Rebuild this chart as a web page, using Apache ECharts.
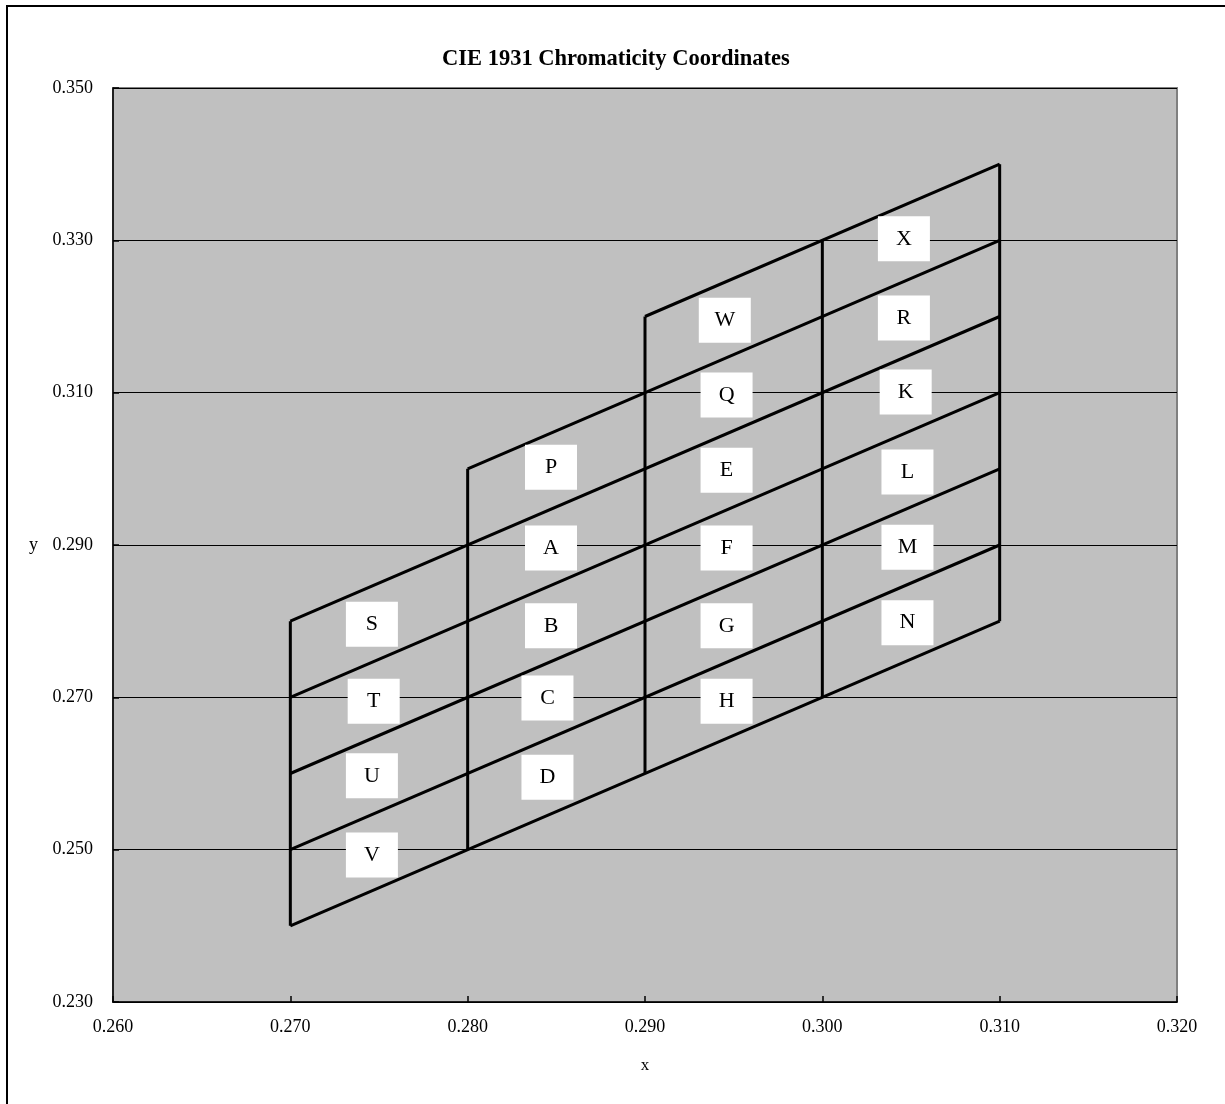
<!DOCTYPE html>
<html>
<head>
<meta charset="utf-8">
<script src="https://cdn.jsdelivr.net/npm/echarts@6/dist/echarts.min.js"></script>
<style>
html,body{margin:0;padding:0;background:#fff;}
#chart{width:1225px;height:1104px;}
</style>
</head>
<body>
<div id="chart"></div>
<script>
// Vertical grid segments
const vertX = [0.27, 0.28, 0.29, 0.30, 0.31];
const vertYLow = [0.24, 0.25, 0.26, 0.27, 0.28];
const vertYHigh = [0.28, 0.30, 0.32, 0.33, 0.34];
// Diagonal grid segments
const diagX0 = [0.27, 0.27, 0.27, 0.27, 0.27, 0.28, 0.29];
const diagY0 = [0.24, 0.25, 0.26, 0.27, 0.28, 0.30, 0.32];
const diagX1 = [0.31, 0.31, 0.31, 0.31, 0.31, 0.31, 0.31];
const diagY1 = [0.28, 0.29, 0.30, 0.31, 0.32, 0.33, 0.34];
// Cell labels
const labelNames = ['X','W','R','Q','K','P','E','L','A','F','M','S','B','G','N','T','C','H','U','D','V'];
const labelX = [0.3046,0.2945,0.3046,0.2946,0.3047,0.2847,0.2946,0.3048,0.2847,0.2946,0.3048,0.2746,0.2847,0.2946,0.3048,0.2747,0.2845,0.2946,0.2746,0.2845,0.2746];
const labelY = [0.3302,0.3195,0.3198,0.3097,0.3101,0.3002,0.2998,0.2996,0.2896,0.2896,0.2897,0.2796,0.2794,0.2794,0.2798,0.2695,0.2699,0.2695,0.2597,0.2595,0.2493];
// Axis ticks
const xTicks = {min: 0.26, max: 0.32, interval: 0.01};
const yTicks = {min: 0.23, max: 0.35, step: 0.02};

const FONT = '"Liberation Serif", "DejaVu Serif", serif';
const series = [];
vertX.forEach((x, i) => {
  series.push({type: 'line', xAxisIndex: 0, yAxisIndex: 0, data: [[x, vertYLow[i]], [x, vertYHigh[i]]],
    symbol: 'none', lineStyle: {color: '#000', width: 3}, z: 3, silent: true});
});
diagX0.forEach((x, i) => {
  series.push({type: 'line', xAxisIndex: 0, yAxisIndex: 0, data: [[x, diagY0[i]], [diagX1[i], diagY1[i]]],
    symbol: 'none', lineStyle: {color: '#000', width: 3}, z: 3, silent: true});
});
series.push({
  type: 'scatter', xAxisIndex: 0, yAxisIndex: 0, z: 5,
  symbol: 'rect', symbolSize: [52, 45],
  itemStyle: {color: '#fff', opacity: 1},
  label: {show: true, position: 'inside', formatter: p => p.name, color: '#000', fontFamily: FONT, fontSize: 22},
  data: labelNames.map((n, i) => ({name: n, value: [labelX[i], labelY[i]]}))
});

const ySteps = Math.round((yTicks.max - yTicks.min) / 0.01);
const chart = echarts.init(document.getElementById('chart'));
chart.setOption({
  animation: false,
  backgroundColor: '#fff',
  title: {
    text: 'CIE 1931 Chromaticity Coordinates', left: 437, top: 43,
    textStyle: {fontFamily: FONT, fontWeight: 'bold', fontSize: 22.5, color: '#000'}
  },
  graphic: [{
    type: 'rect', shape: {x: 7, y: 6, width: 1300, height: 1200},
    style: {fill: 'none', stroke: '#000', lineWidth: 2}, silent: true, z: 100
  }],
  grid: {left: 113, right: 48, top: 88, bottom: 102, show: true, backgroundColor: '#c0c0c0', borderColor: '#808080', borderWidth: 2},
  xAxis: [{
    type: 'value', min: xTicks.min, max: xTicks.max, interval: xTicks.interval,
    name: 'x', nameLocation: 'middle', nameGap: 55,
    nameTextStyle: {fontFamily: FONT, fontSize: 17, color: '#000'},
    axisLine: {show: true, lineStyle: {color: '#000', width: 1.5}},
    axisTick: {show: true, inside: true, length: 6, lineStyle: {color: '#000', width: 1.5}},
    axisLabel: {margin: 16, fontFamily: FONT, fontSize: 18, color: '#000', formatter: v => v.toFixed(3)},
    splitLine: {show: false}
  }],
  yAxis: [{
    type: 'value', min: yTicks.min, max: yTicks.max, position: 'right', show: false
  }, {
    type: 'value', min: 0, max: ySteps, interval: Math.round(yTicks.step / 0.01), position: 'left',
    name: 'y', nameLocation: 'middle', nameGap: 75, nameRotate: 0,
    nameTextStyle: {fontFamily: FONT, fontSize: 18, color: '#000'},
    axisLine: {show: true, lineStyle: {color: '#000', width: 1.5}},
    axisTick: {show: true, inside: true, length: 6, lineStyle: {color: '#000', width: 1.5}},
    axisLabel: {margin: 20, fontFamily: FONT, fontSize: 18, color: '#000', formatter: v => (yTicks.min + v * 0.01).toFixed(3)},
    splitLine: {show: true, lineStyle: {color: '#000', width: 1}}
  }],
  series: series
});
</script>
</body>
</html>
